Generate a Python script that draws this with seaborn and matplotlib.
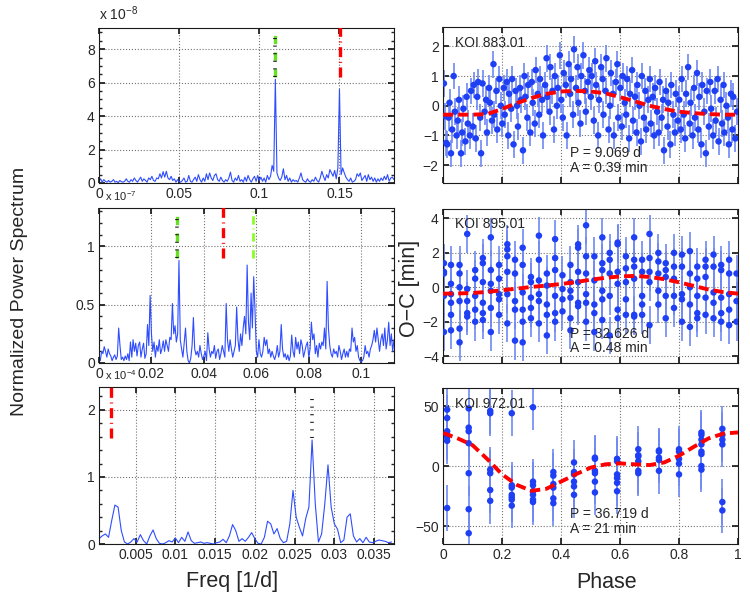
import matplotlib
matplotlib.use('Agg')
import matplotlib.pyplot as plt
from matplotlib.ticker import FuncFormatter, MultipleLocator
import numpy as np
import seaborn as sns

sns.set_theme(style='ticks')
plt.rcParams['font.family'] = ['Liberation Sans', 'DejaVu Sans']
plt.rcParams['mathtext.fontset'] = 'custom'
plt.rcParams['mathtext.rm'] = 'Liberation Sans'
plt.rcParams['mathtext.it'] = 'Liberation Sans:italic'

# ---------------- power spectra (left column) ----------------
# KOI 883.01, units of 1e-8, sampled every 0.001 1/d from 0
step_883 = 0.001
power_883 = [
    0.1, 0.25, 0.05, 0.2, 0.1, 0.05, 0.15, 0.05, 0.1, 0.2,
    0.05, 0.1, 0.02, 0.15, 0.08, 0.05, 0.1, 0.25, 0.1, 0.05,
    0.2, 0.1, 0.3, 0.15, 0.05, 0.2, 0.35, 0.1, 0.25, 0.15,
    0.05, 0.3, 0.2, 0.4, 0.15, 0.1, 0.3, 0.25, 0.55, 0.3,
    0.68, 0.35, 0.7, 0.3, 0.2, 0.4, 0.15, 0.25, 0.05, 0.2,
    0.1, 0.05, 0.15, 0.3, 0.05, 0.1, 0.45, 0.1, 0.05, 0.2,
    0.35, 0.1, 0.5, 0.2, 0.05, 0.3, 0.1, 0.55, 0.2, 0.6,
    0.3, 0.15, 0.45, 0.55, 0.2, 0.1, 0.35, 0.15, 0.05, 0.2,
    0.1, 0.3, 0.65, 0.15, 0.05, 0.3, 0.15, 0.45, 0.1, 0.2,
    0.05, 0.35, 0.1, 0.45, 0.2, 0.05, 0.25, 0.4, 0.1, 0.45,
    0.15, 0.35, 0.1, 0.3, 0.05, 0.45, 0.2, 0.4, 1.05, 0.7,
    6.2, 0.6, 0.3, 0.15, 0.35, 0.85, 0.2, 0.45, 0.1, 0.3,
    0.05, 0.2, 0.1, 0.15, 0.05, 0.3, 0.6, 0.2, 0.1, 0.05,
    0.25, 0.1, 0.05, 0.2, 0.1, 0.35, 0.15, 0.05, 0.3, 0.7,
    0.4, 0.15, 0.5, 0.3, 0.8, 0.6, 0.4, 0.75, 0.25, 0.9,
    5.6, 0.5, 0.9, 0.6, 0.35, 0.2, 0.1, 0.3, 0.05, 0.1,
    0.2, 0.55, 0.4, 0.6, 0.15, 0.3, 0.45, 0.1, 0.5, 0.2,
    0.35, 0.1, 0.3, 0.05, 0.25, 0.1, 0.3, 0.15, 0.4, 0.2,
    0.5, 0.1, 0.3, 0.35, 0.2,
]

# KOI 895.01, units of 1e-7, sampled every 0.0005 1/d from 0
step_895 = 0.0005
power_895 = [
    0.05, 0.02, 0.1, 0.08, 0.14, 0.1, 0.05, 0.12, 0.08, 0.06,
    0.02, 0.05, 0.07, 0.03, 0.06, 0.3, 0.15, 0.03, 0.05, 0.02,
    0.06, 0.03, 0.08, 0.02, 0.18, 0.05, 0.2, 0.1, 0.17, 0.06,
    0.15, 0.18, 0.05, 0.12, 0.17, 0.04, 0.08, 0.33, 0.15, 0.58,
    0.25, 0.1, 0.18, 0.05, 0.15, 0.1, 0.2, 0.08, 0.12, 0.19,
    0.1, 0.2, 0.15, 0.1, 0.22, 0.2, 0.51, 0.25, 0.32, 0.18,
    0.25, 0.88, 0.2, 0.12, 0.05, 0.18, 0.3, 0.1, 0.02, 0.0,
    0.04, 0.15, 0.39, 0.12, 0.07, 0.1, 0.05, 0.15, 0.08, 0.03,
    0.06, 0.1, 0.02, 0.26, 0.12, 0.05, 0.1, 0.08, 0.15, 0.04,
    0.1, 0.12, 0.03, 0.08, 0.15, 0.1, 0.05, 0.51, 0.2, 0.1,
    0.2, 0.12, 0.05, 0.1, 0.15, 0.48, 0.2, 0.1, 0.25, 0.15,
    0.3, 0.4, 0.25, 0.84, 0.35, 0.2, 0.6, 0.3, 0.74, 0.45,
    0.1, 0.05, 0.2, 0.08, 0.05, 0.1, 0.22, 0.15, 0.2, 0.08,
    0.12, 0.05, 0.1, 0.06, 0.03, 0.07, 0.15, 0.05, 0.1, 0.33,
    0.12, 0.05, 0.08, 0.03, 0.07, 0.02, 0.06, 0.24, 0.1, 0.05,
    0.22, 0.12, 0.18, 0.08, 0.2, 0.15, 0.05, 0.1, 0.15, 0.18,
    0.05, 0.12, 0.35, 0.2, 0.25, 0.08, 0.15, 0.05, 0.17, 0.12,
    0.18, 0.15, 0.3, 0.12, 0.7, 0.3, 0.15, 0.08, 0.05, 0.12,
    0.08, 0.1, 0.05, 0.15, 0.1, 0.03, 0.08, 0.12, 0.05, 0.1,
    0.05, 0.12, 0.1, 0.3, 0.18, 0.22, 0.1, 0.15, 0.05, 0.02,
    0.01, 0.02, 0.05, 0.15, 0.08, 0.1, 0.05, 0.12, 0.15, 0.2,
    0.28, 0.18, 0.3, 0.2, 0.1, 0.2, 0.25, 0.15, 0.3, 0.12,
    0.2, 0.35, 0.15, 0.25, 0.1, 0.2,
]

# KOI 972.01, units of 1e-4, sampled every 0.0004 1/d from 0.0004
step_972 = 0.0004
power_972 = [
    0.08, 0.12, 0.15, 0.1, 0.35, 0.58, 0.55, 0.2, 0.03, 0.0,
    0.03, 0.08, 0.03, 0.14, 0.05, 0.0, 0.12, 0.21, 0.08, 0.01,
    0.0, 0.02, 0.05, 0.03, 0.09, 0.02, 0.1, 0.04, 0.18, 0.05,
    0.01, 0.02, 0.03, 0.01, 0.02, 0.01, 0.0, 0.02, 0.03, 0.07,
    0.02, 0.12, 0.29, 0.2, 0.04, 0.08, 0.04, 0.1, 0.17, 0.08,
    0.01, 0.0, 0.1, 0.34, 0.3, 0.15, 0.23, 0.08, 0.02, 0.04,
    0.3, 0.8, 0.4, 0.25, 0.12, 0.38, 0.55, 1.55, 0.6, 0.03,
    0.15, 0.6, 1.18, 0.55, 0.3, 0.22, 0.02, 0.06, 0.4, 0.45,
    0.12, 0.03, 0.08, 0.02, 0.1, 0.03, 0.02, 0.04, 0.06, 0.05,
    0.04, 0.02, 0.03,
]

# candidate periods marked above the spectra: (freq, low, high)
marks_883 = {'gk': (0.110, 6.35, 9.0), 'r': (0.1506, 6.35, 9.3)}
marks_895 = {'gk': (0.0298, 0.905, 1.28), 'r': (0.0473, 0.905, 1.34),
             'g': (0.0587, 0.905, 1.34)}
marks_972 = {'r': (0.00194, 1.58, 2.36), 'k': (0.0272, 1.58, 2.24)}

# ---------------- O-C diagrams (right column) ----------------
phase_883 = [
    0.003, 0.006, 0.011, 0.014, 0.019, 0.022, 0.027, 0.031, 0.036, 0.040,
    0.046, 0.050, 0.054, 0.061, 0.065, 0.069, 0.076, 0.080, 0.084, 0.091, 0.095,
    0.101, 0.104, 0.111, 0.116, 0.119, 0.126, 0.129, 0.134, 0.141, 0.146,
    0.149, 0.156, 0.159, 0.166, 0.171, 0.174, 0.181, 0.184, 0.191, 0.196,
    0.201, 0.206, 0.209, 0.216, 0.221, 0.224, 0.231, 0.234, 0.239, 0.246,
    0.251, 0.254, 0.261, 0.264, 0.271, 0.276, 0.279, 0.286, 0.289, 0.296,
    0.301, 0.304, 0.311, 0.314, 0.321, 0.326, 0.329, 0.336, 0.339, 0.346,
    0.351, 0.354, 0.361, 0.364, 0.371, 0.376, 0.379, 0.386, 0.389, 0.396,
    0.401, 0.406, 0.409, 0.416, 0.419, 0.426, 0.431, 0.434, 0.441, 0.444,
    0.451, 0.456, 0.459, 0.466, 0.469, 0.476, 0.481, 0.484, 0.491, 0.496,
    0.501, 0.504, 0.511, 0.516, 0.519, 0.526, 0.529, 0.536, 0.541, 0.544,
    0.551, 0.554, 0.561, 0.566, 0.569, 0.576, 0.579, 0.586, 0.591, 0.594,
    0.601, 0.606, 0.609, 0.616, 0.621, 0.624, 0.631, 0.634, 0.641, 0.644,
    0.651, 0.656, 0.659, 0.666, 0.671, 0.674, 0.681, 0.686, 0.689, 0.696,
    0.701, 0.704, 0.711, 0.716, 0.719, 0.726, 0.731, 0.734, 0.741, 0.746,
    0.749, 0.756, 0.761, 0.764, 0.771, 0.774, 0.781, 0.786, 0.789, 0.796,
    0.801, 0.806, 0.809, 0.816, 0.821, 0.824, 0.831, 0.836, 0.839, 0.846,
    0.851, 0.854, 0.861, 0.866, 0.869, 0.876, 0.879, 0.886, 0.891, 0.894,
    0.901, 0.906, 0.909, 0.916, 0.921, 0.924, 0.931, 0.934, 0.941, 0.946,
    0.951, 0.954, 0.961, 0.966, 0.969, 0.976, 0.981, 0.984, 0.991, 0.997,
]
oc_883 = [
    0.75, -0.35, -1.25, -1.3, -0.4, 0.1, -1.6, -0.8, 1.0, -0.2,
    -1.0, -0.5, 0.2, -1.6, -0.9, -0.1, -1.2, 0.3, -0.6, -1.0, 0.5,
    -0.7, 0.7, -1.1, 0.3, 0.8, -0.4, -1.6, 0.75, -0.2, 0.2,
    -0.9, 0.6, 0.1, -0.5, 1.4, -0.3, 0.5, -0.8, 0.9, 0.0,
    -0.6, 0.6, -0.3, 0.8, -1.0, 0.4, -0.1, 0.9, -1.3, 0.5,
    0.0, -0.7, 0.6, 0.2, -1.5, 1.0, 0.3, -0.4, 0.7, -0.9,
    0.8, 0.1, -0.6, 1.2, 0.4, -0.3, 0.9, 0.2, -1.0, 0.7,
    1.6, 0.3, -0.2, 1.3, 0.5, -0.8, 1.0, 0.0, 0.6, 1.7,
    0.2, -0.4, 1.1, 0.7, -1.0, 1.4, 0.4, 0.9, -0.3, 1.9,
    0.6, 1.3, 0.1, -0.6, 1.0, 1.7, 0.5, -0.2, 0.8, 1.2,
    0.3, 1.0, -0.5, 1.5, 0.7, -1.0, 0.2, 1.3, 0.9, -0.3,
    0.5, 1.6, -0.8, 0.0, 1.1, 0.4, -1.0, 0.8, 1.4, -0.4,
    0.6, -0.7, 1.0, 0.1, -0.3, 0.9, -1.1, 0.4, 1.2, -0.5,
    0.3, -0.9, 0.7, 0.0, -1.2, 1.0, -0.4, 0.5, -0.8, 0.2,
    0.9, -0.6, 0.3, -1.0, 0.6, -0.2, -0.9, 0.8, -0.4, 0.2,
    -1.5, 0.5, -0.7, 0.1, -1.3, 0.7, -0.3, -0.9, 0.4, -0.5,
    0.2, -0.8, 0.9, -0.3, -1.1, 0.4, 1.3, -0.6, 0.1, -1.0,
    0.6, -0.4, 1.1, -0.8, 0.3, -1.3, 0.7, -0.2, -1.6, 0.5,
    -0.7, 0.8, -0.1, -1.0, 0.5, -0.5, 0.9, -1.2, 0.2, -0.6,
    0.7, -0.9, 0.0, -0.4, -1.3, 0.4, -0.8, 0.3, -1.1, -0.2,
]
err_883 = 0.45

# KOI 895.01: transits fall in columns of phase
cols_895 = [0.003, 0.027, 0.056, 0.082, 0.109, 0.135, 0.162, 0.190, 0.218, 0.244,
            0.270, 0.298, 0.325, 0.352, 0.380, 0.405, 0.432, 0.458, 0.485, 0.513,
            0.540, 0.565, 0.592, 0.620, 0.648, 0.675, 0.700, 0.730, 0.755, 0.783,
            0.810, 0.837, 0.862, 0.890, 0.917, 0.943, 0.970, 0.995]
vals_895 = [
    [1.4, 0.9, 0.8, -0.5, -2.6], [1.3, 0.2, -0.4, -0.9, -1.6, -2.5],
    [1.3, 0.8, 0.0, -0.8, -2.4, -3.2], [3.1, -0.1, -0.8, -1.5, -1.7],
    [1.0, 0.5, -0.5, -1.3, -2.0], [1.7, 1.4, 0.3, -0.9, -1.5, -1.9],
    [2.9, 1.0, 0.2, -0.2, -1.2, -2.6], [1.3, 0.5, -0.4, -0.7, -1.6],
    [2.5, 2.2, 1.8, 0.9, -0.4, -2.1], [1.6, 0.8, -0.8, -1.3, -3.1],
    [2.3, 1.3, -0.3, -1.3, -2.0, -3.2], [0.6, 0.3, -0.6, -1.2, -1.8],
    [3.0, 1.6, 0.4, -0.4, -0.8, -2.1], [0.8, 0.1, -1.0, -1.6, -2.8],
    [2.8, 1.7, 1.0, -0.5, -1.5, -2.0], [0.7, -0.1, -0.7, -1.4],
    [1.3, 0.3, -0.2, -0.6, -1.8, -2.5], [2.5, 2.3, 0.9, 0.3, -0.9, -1.1],
    [3.6, 1.8, 0.8, -0.4, -0.9, -2.0], [1.8, 0.4, -1.0, -1.5, -2.6],
    [2.9, 1.4, 1.0, -0.2, -0.7, -1.9], [2.0, 1.6, 0.8, -0.5, -2.8],
    [2.6, 2.5, 0.9, 0.2, -1.3, -1.8], [1.8, 1.1, 0.3, -0.7, -1.6],
    [2.9, 1.6, 1.2, 0.5, -1.6, -1.7], [1.6, 0.9, -0.5, -1.0, -1.6],
    [3.1, 1.7, 0.9, 0.3, -2.2], [2.0, 1.5, 0.8, -0.2, -1.0],
    [1.4, 1.0, 0.6, -0.5, -1.8], [2.0, 1.2, 0.5, -0.5, -1.2],
    [1.9, 1.2, -0.4, -0.7, -2.0], [2.1, 0.8, 0.0, -1.0, -2.3],
    [1.2, 0.5, -0.5, -1.5, -1.8], [1.6, 1.2, 0.6, -0.6, -1.6],
    [1.9, 1.2, -0.3, -0.9, -1.8], [1.3, 1.0, -0.6, -1.5, -2.0],
    [1.6, 0.8, -0.4, -1.3, -2.2], [0.8, -0.8, -2.0],
]
err_895 = 1.1

# KOI 972.01
cols_972 = [0.014, 0.087, 0.160, 0.233, 0.305, 0.374, 0.444,
            0.515, 0.590, 0.662, 0.732, 0.800, 0.876, 0.947]
vals_972 = [
    [47, 40, 29, 26, 24, 21, -35], [48, 32, 29, 19, -6, -36, -56],
    [46, 44, -3, -6, -20, -29], [44, -16, -18, -24, -26, -28, -33],
    [49, -13, -16, -21, -24, -28, -30], [-5, -8, -15, -18, -27, -31],
    [3, -5, -7, -13, -17, -24], [7, 6, -4, -6, -13, -22],
    [6, 4, -7, -10, -14, -21], [14, 9, 8, 4, -4, -6],
    [13, 12, 7, 5, -4], [14, 12, 6, 2, -7],
    [28, 26, 22, 18, 12, 10, 0, -3], [31, 26, 22, 18, -30, -37],
]
err_972 = 19

# fitted sinusoidal models
model_phase = [0.0, 0.05, 0.1, 0.15, 0.2, 0.25, 0.3, 0.35, 0.4, 0.45, 0.5,
               0.55, 0.6, 0.65, 0.7, 0.75, 0.8, 0.85, 0.9, 0.95, 1.0]
model_883 = [-0.3, -0.3, -0.3, -0.28, -0.11, 0.09, 0.26, 0.4, 0.48, 0.5, 0.48,
             0.42, 0.29, 0.15, 0.0, -0.11, -0.2, -0.25, -0.28, -0.3, -0.3]
model_895 = [-0.37, -0.36, -0.33, -0.27, -0.17, -0.08, 0.02, 0.1, 0.19, 0.3, 0.44,
             0.55, 0.63, 0.66, 0.6, 0.47, 0.29, 0.08, -0.13, -0.28, -0.37]
model_972 = [27.6, 23, 17.4, 5.8, -6.9, -15.7, -20.7, -19, -13, -6.9, -1.4,
             1.4, 2.2, 1.4, 0.8, 3, 8.6, 16, 23, 27, 28]

labels = ['KOI 883.01', 'KOI 895.01', 'KOI 972.01']
periods = ['P = 9.069 d', 'P = 32.626 d', 'P = 36.719 d']
amps = ['A = 0.39 min', 'A = 0.48 min', 'A = 21 min']

SPEC = '#2f4dff'
DOT = '#1f3ff5'
BAR = '#6f88f3'
GREEN = '#66e022'


def fmt(v, pos):
    return ('%g' % v).replace('-', '\u2212')


def style(ax):
    ax.grid(True, ls=':', color='0.45', lw=0.8)
    ax.tick_params(direction='in', top=True, right=True, length=4,
                   labelsize=10, pad=3, color='k')
    ax.tick_params(which='minor', direction='in', length=2, right=True)
    for s in ax.spines.values():
        s.set_color('k')
        s.set_linewidth(0.8)
    ax.xaxis.set_major_formatter(FuncFormatter(fmt))
    ax.yaxis.set_major_formatter(FuncFormatter(fmt))
    ax.set_xlabel('')
    ax.set_ylabel('')


def draw_mark(ax, kind, f, lo, hi):
    if kind == 'gk':
        ax.plot([f, f], [lo, hi], color=GREEN, lw=2.4, ls=(0, (2.5, 2.5)), zorder=4)
        ax.plot([f, f], [lo, hi], color='k', lw=2.6, ls=(0, (0.3, 1.8)), zorder=5)
    elif kind == 'r':
        ax.plot([f, f], [lo, hi], color='red', lw=2.4, ls=(0, (3.0, 1.4, 0.3, 1.4)), zorder=4)
    elif kind == 'g':
        ax.plot([f, f], [lo, hi], color='#88ff22', lw=2.0, ls=(0, (3.0, 1.4, 0.3, 1.4)), zorder=4)
    else:
        ax.plot([f, f], [lo, hi], color='k', lw=2.6, ls=(0, (0.3, 1.8)), zorder=5)


fig = plt.figure(figsize=(7.5, 5.99), dpi=100)

left_pos = [[0.132, 0.6945, 0.3933, 0.2588],
            [0.132, 0.394, 0.3933, 0.2588],
            [0.132, 0.0918, 0.3933, 0.2621]]
right_pos = [[0.5907, 0.6945, 0.3933, 0.2604],
             [0.5907, 0.394, 0.3933, 0.2571],
             [0.5907, 0.0918, 0.3933, 0.2604]]

spectra = [
    (np.arange(len(power_883)) * step_883, power_883, marks_883,
     (0, 0.184), (0, 9.27), 0.05, 2, 0.5, r'x 10$^{-8}$', 0.0),
    (np.arange(len(power_895)) * step_895, power_895, marks_895,
     (0, 0.1125), (0, 1.33), 0.02, 0.5, 0.1, r'x 10$^{-7}$', 0.02),
    ((np.arange(len(power_972)) + 1) * step_972, power_972, marks_972,
     (0.0004, 0.0375), (0, 2.34), 0.005, 1, 0.2, r'x 10$^{-4}$', 0.02),
]

for pos, (freq, power, marks, xl, yl, xs, ys, ym, off, offx) in zip(left_pos, spectra):
    ax = fig.add_axes(pos)
    sns.lineplot(x=freq, y=power, ax=ax, color=SPEC, lw=0.8, estimator=None)
    for kind, (f, lo, hi) in marks.items():
        draw_mark(ax, kind, f, lo, hi)
    ax.set_xlim(*xl)
    ax.set_ylim(*yl)
    ax.xaxis.set_major_locator(MultipleLocator(xs))
    ax.yaxis.set_major_locator(MultipleLocator(ys))
    ax.yaxis.set_minor_locator(MultipleLocator(ym))
    style(ax)
    ax.text(offx, 1.03, off, transform=ax.transAxes,
            fontsize=10 if offx == 0 else 8, ha='left', va='bottom')

oc_sets = [
    (phase_883, oc_883, err_883, model_883, (-2.6, 2.65), 1),
    ([c for c, vs in zip(cols_895, vals_895) for _ in vs],
     [v for vs in vals_895 for v in vs], err_895, model_895, (-4.4, 4.55), 2),
    ([c for c, vs in zip(cols_972, vals_972) for _ in vs],
     [v for vs in vals_972 for v in vs], err_972, model_972, (-65, 65), 50),
]

for i, (pos, (ph, oc, err, model, yl, ys)) in enumerate(zip(right_pos, oc_sets)):
    ax = fig.add_axes(pos)
    ax.errorbar(ph, oc, yerr=err, fmt='none', ecolor=BAR, elinewidth=1.4,
                alpha=0.85, zorder=2)
    sns.scatterplot(x=ph, y=oc, ax=ax, color=DOT, s=22, edgecolor='none',
                    linewidth=0, zorder=3)
    sns.lineplot(x=model_phase, y=model, ax=ax, color='red', lw=2.8,
                 linestyle=(0, (2.6, 1.3)), estimator=None, zorder=4)
    ax.set_xlim(0, 1)
    ax.set_ylim(*yl)
    ax.xaxis.set_major_locator(MultipleLocator(0.2))
    ax.yaxis.set_major_locator(MultipleLocator(ys))
    style(ax)
    if i < 2:
        ax.set_xticklabels([])
    ax.text(0.04, 0.9, labels[i], transform=ax.transAxes, fontsize=10,
            ha='left', va='center')
    ax.text(0.43, 0.19, periods[i], transform=ax.transAxes, fontsize=10,
            ha='left', va='center')
    ax.text(0.43, 0.095, amps[i], transform=ax.transAxes, fontsize=10,
            ha='left', va='center')

fig.text(20 / 750, 1 - 291 / 599, 'Normalized Power Spectrum', rotation=90,
         fontsize=14, ha='center', va='center')
fig.text(232 / 750, 1 - 582 / 599, 'Freq [1/d]', fontsize=15.5,
         ha='center', va='center')
fig.text(410 / 750, 1 - 288 / 599, 'O\u2212C [min]', rotation=90,
         fontsize=15.5, ha='center', va='center')
fig.text(607 / 750, 1 - 582 / 599, 'Phase', fontsize=15.5,
         ha='center', va='center')

fig.savefig('out.png', dpi=100)
